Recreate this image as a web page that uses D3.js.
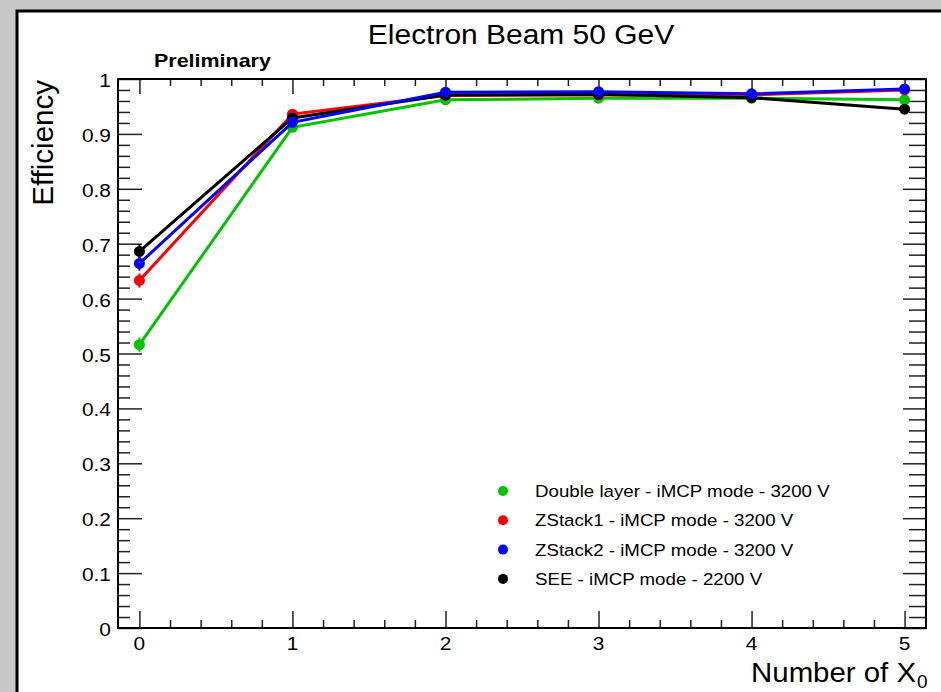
<!DOCTYPE html>
<html>
<head>
<meta charset="utf-8">
<script src="https://cdn.jsdelivr.net/npm/d3@7"></script>
<style>
  body { margin: 0; background: #c8c8c8; }
  text { font-family: "Liberation Sans", Arial, Helvetica, sans-serif; fill: #000; }
</style>
</head>
<body>
<div id="chart"></div>
<script>
// data
const xValues = [0, 1, 2, 3, 4, 5];
const seriesNames = [
  'Double layer - iMCP mode - 3200 V',
  'ZStack1 - iMCP mode - 3200 V',
  'ZStack2 - iMCP mode - 3200 V',
  'SEE - iMCP mode - 2200 V'
];
const seriesColors = ['#00c400', '#ff0000', '#0000ff', '#000000'];
const doubleLayer = [0.516, 0.912, 0.962, 0.965, 0.965, 0.962];
const zStack1 = [0.633, 0.936, 0.970, 0.971, 0.971, 0.980];
const zStack2 = [0.664, 0.921, 0.976, 0.977, 0.973, 0.982];
const see = [0.686, 0.929, 0.971, 0.972, 0.966, 0.945];
const doubleLayerErr = [0.013, 0.004, 0.003, 0.003, 0.003, 0.003];
const zStack1Err = [0.013, 0.004, 0.003, 0.003, 0.003, 0.003];
const zStack2Err = [0.013, 0.004, 0.003, 0.003, 0.003, 0.003];
const seeErr = [0.013, 0.004, 0.003, 0.003, 0.003, 0.003];
const yTickValues = [0, 0.1, 0.2, 0.3, 0.4, 0.5, 0.6, 0.7, 0.8, 0.9, 1];
const yTickLabels = ['0', '0.1', '0.2', '0.3', '0.4', '0.5', '0.6', '0.7', '0.8', '0.9', '1'];
const xTickValues = [0, 1, 2, 3, 4, 5];

const errs = [doubleLayerErr, zStack1Err, zStack2Err, seeErr];
const series = [doubleLayer, zStack1, zStack2, see].map((vals, i) => ({
  name: seriesNames[i],
  color: seriesColors[i],
  points: vals.map((v, j) => ({ x: xValues[j], y: v, e: errs[i][j] }))
}));
// ROOT drew the blue graph last
const drawOrder = [0, 1, 3, 2];

const W = 941, H = 692;
const frame = { left: 118, right: 926, top: 79, bottom: 628 };

const svg = d3.select('#chart').append('svg')
  .attr('width', W)
  .attr('height', H);

// the picture looks a little stretched sideways, so texts get a horizontal scale
function label(parent, x, y, str, size, sx, anchor) {
  return parent.append('text')
    .attr('transform', `translate(${x},${y}) scale(${sx},1)`)
    .attr('text-anchor', anchor || 'start')
    .attr('font-size', size)
    .text(str);
}

// canvas: grey surround, white pad with black border
svg.append('rect').attr('width', W).attr('height', H).attr('fill', '#c8c8c8');
svg.append('rect')
  .attr('x', 17).attr('y', 11)
  .attr('width', W + 20).attr('height', H + 20)
  .attr('fill', '#fff')
  .attr('stroke', '#000')
  .attr('stroke-width', 3);

const xScale = d3.scaleLinear().domain([-0.14, 5.14]).range([frame.left, frame.right]);
const yScale = d3.scaleLinear().domain([0, 1]).range([frame.bottom, frame.top]);

const g = svg.append('g');

// y axis, left and right ticks
const yMinor = d3.range(0, 1.0001, 0.02).filter(v => !yTickValues.some(t => Math.abs(t - v) < 1e-6));
const yLeft = g.append('g').attr('transform', `translate(${frame.left},0)`);
yLeft.call(d3.axisRight(yScale).tickValues(yTickValues).tickSize(24).tickFormat(''));
yLeft.append('g').call(d3.axisRight(yScale).tickValues(yMinor).tickSize(12).tickFormat(''));
const yRight = g.append('g').attr('transform', `translate(${frame.right},0)`);
yRight.call(d3.axisLeft(yScale).tickValues(yTickValues).tickSize(23).tickFormat(''));
yRight.append('g').call(d3.axisLeft(yScale).tickValues(yMinor).tickSize(17).tickFormat(''));

// x axis, bottom and top ticks
const xMinor = d3.range(-0.2, 5.2001, 0.2)
  .filter(v => v > -0.14 && v < 5.14 && !xTickValues.some(t => Math.abs(t - v) < 1e-6));
const xBottom = g.append('g').attr('transform', `translate(0,${frame.bottom})`);
xBottom.call(d3.axisTop(xScale).tickValues(xTickValues).tickSize(17).tickFormat(''));
xBottom.append('g').call(d3.axisTop(xScale).tickValues(xMinor).tickSize(8).tickFormat(''));
const xTop = g.append('g').attr('transform', `translate(0,${frame.top})`);
xTop.call(d3.axisBottom(xScale).tickValues(xTickValues).tickSize(15).tickFormat(''));
xTop.append('g').call(d3.axisBottom(xScale).tickValues(xMinor).tickSize(7).tickFormat(''));

g.selectAll('.domain').remove();
g.selectAll('.tick line').attr('stroke', '#222').attr('stroke-width', 1.5);

// frame
g.append('rect')
  .attr('x', frame.left).attr('y', frame.top)
  .attr('width', frame.right - frame.left).attr('height', frame.bottom - frame.top)
  .attr('fill', 'none').attr('stroke', '#000').attr('stroke-width', 2);

// tick labels
yTickValues.forEach((d, i) => {
  label(g, frame.left - 7, yScale(d) + 8, yTickLabels[i], 19, 1.1, 'end');
});
xTickValues.forEach(d => {
  label(g, xScale(d), frame.bottom + 22, String(d), 19, 1.1, 'middle');
});

// graphs
const line = d3.line().x(d => xScale(d.x)).y(d => yScale(d.y));
drawOrder.forEach(i => {
  const s = series[i];
  const sg = g.append('g');
  sg.append('path')
    .datum(s.points)
    .attr('d', line)
    .attr('fill', 'none')
    .attr('stroke', s.color)
    .attr('stroke-width', 3);
  sg.selectAll('.err')
    .data(s.points)
    .enter().append('line')
    .attr('x1', d => xScale(d.x)).attr('x2', d => xScale(d.x))
    .attr('y1', d => yScale(d.y - d.e)).attr('y2', d => yScale(d.y + d.e))
    .attr('stroke', s.color)
    .attr('stroke-width', 2);
  sg.selectAll('circle')
    .data(s.points)
    .enter().append('circle')
    .attr('cx', d => xScale(d.x))
    .attr('cy', d => yScale(d.y))
    .attr('r', 5.5)
    .attr('fill', s.color);
});

// legend
const legend = g.append('g');
series.forEach((s, i) => {
  const ly = 491 + i * 29.3;
  legend.append('circle').attr('cx', 503).attr('cy', ly).attr('r', 5).attr('fill', s.color);
  label(legend, 535, ly + 6, s.name, 17, 1.1);
});

// titles
label(svg, 521, 44, 'Electron Beam 50 GeV', 28, 1.07, 'middle');
label(svg, 154, 67, 'Preliminary', 19, 1.13).attr('font-weight', 'bold');

svg.append('text')
  .attr('transform', 'translate(53,80) rotate(-90)')
  .attr('text-anchor', 'end')
  .attr('font-size', 29.5)
  .text('Efficiency');

label(svg, 916, 682, 'Number of X', 28, 1.05, 'end');
label(svg, 917, 688, '0', 19, 1);
</script>
</body>
</html>
